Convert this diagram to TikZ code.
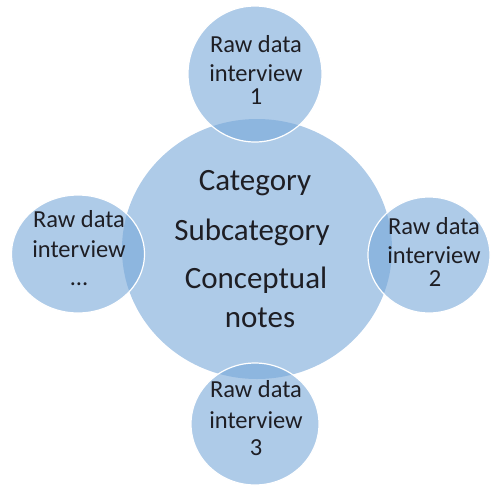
\documentclass[tikz,border=0pt]{standalone}
\usepackage{fontspec}
\setmainfont{Carlito}
\usetikzlibrary{shapes.geometric}
\definecolor{maincol}{HTML}{AECBE8}
\definecolor{satcol}{HTML}{78A8D9}
\definecolor{txtcol}{HTML}{1E1E24}
\tikzset{
  mainball/.style={ellipse, fill=maincol, draw=none, inner sep=0pt},
  satball/.style={ellipse, fill=satcol, fill opacity=0.6, draw=white, line width=1.2pt, inner sep=0pt},
  sattext/.style={anchor=base, inner sep=0pt, text=txtcol, font=\fontsize{24.5}{28}\selectfont},
  maintext/.style={anchor=base, inner sep=0pt, text=txtcol, font=\fontsize{31}{36}\selectfont}
}
\begin{document}
\begin{tikzpicture}[x=1pt,y=-1pt]
\useasboundingbox (0,0) rectangle (492,485);
% central circle
\node[mainball, minimum width=270pt, minimum height=260pt] (c) at (257,249) {};
% satellites
\node[satball, minimum width=134pt, minimum height=136pt] (s1) at (255,74) {};
\node[satball, minimum width=122pt, minimum height=116pt] (s2) at (429,255) {};
\node[satball, minimum width=128pt, minimum height=122pt] (s3) at (255,424) {};
\node[satball, minimum width=133pt, minimum height=118pt] (s4) at (78,254) {};
% central text
\node[maintext] (c1) at (255,190) {Category};
\node[maintext] (c2) at (252,240) {Subcategory};
\node[maintext] (c3) at (256,288) {Conceptual};
\node[maintext] (c4) at (260,327) {notes};
% top
\node[sattext] (t1) at (256,52) {Raw data};
\node[sattext] (t2) at (256,81) {interview};
\node[sattext] (t3) at (256,104) {1};
% right
\node[sattext] (r1) at (434,234) {Raw data};
\node[sattext] (r2) at (434,263) {interview};
\node[sattext] (r3) at (435,286) {2};
% bottom
\node[sattext] (b1) at (256,397) {Raw data};
\node[sattext] (b2) at (256,428) {interview};
\node[sattext] (b3) at (256,455) {3};
% left
\node[sattext] (l1) at (79,227) {Raw data};
\node[sattext] (l2) at (79,257) {interview};
\node[sattext] (l3) at (79,285) {\ldots};
\end{tikzpicture}
\end{document}
